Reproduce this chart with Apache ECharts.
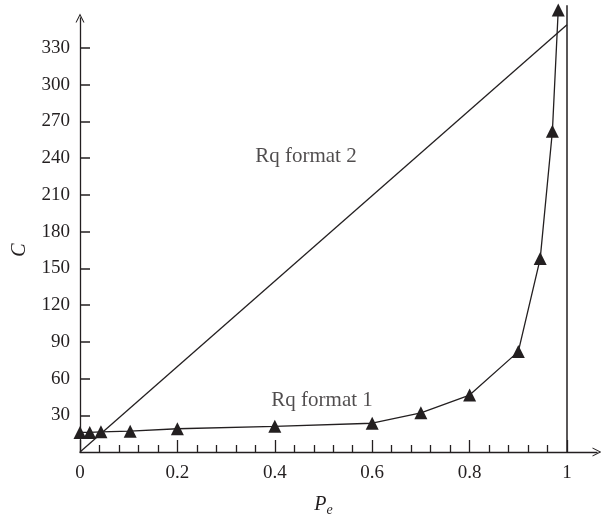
<!DOCTYPE html>
<html>
<head>
<meta charset="utf-8">
<script src="https://cdn.jsdelivr.net/npm/echarts@6/dist/echarts.min.js"></script>
<style>
  html, body { margin: 0; padding: 0; background: #fff; }
  #chart { width: 601px; height: 518px; }
</style>
</head>
<body>
<div id="chart"></div>
<script>
// Rq format 1 (triangles)
const peValues = [0, 0.02, 0.043, 0.103, 0.2, 0.4, 0.6, 0.7, 0.8, 0.9, 0.945, 0.97, 0.982];
const cValues = [16, 16, 16.5, 17, 19, 21, 23.5, 32, 46.5, 82, 158, 262, 361];
// Rq format 2 (straight line)
const lineX = [0, 1];
const lineY = [0, 349];
// vertical boundary at Pe = 1
const boundX = [1, 1];
const boundY = [0, 365];
const labelTexts = ['Rq format 2', 'Rq format 1'];
const labelX = [0.464, 0.497];
const labelY = [241, 42];

const ink = '#231f20';
const font = 'Liberation Serif';
const chevron = 'path://M0,10 L5,0 L10,10 L8.8,10 L5,2.4 L1.2,10 Z';

const zip = (a, b) => a.map((v, i) => [v, b[i]]);

const chart = echarts.init(document.getElementById('chart'));
chart.setOption({
  animation: false,
  backgroundColor: '#fff',
  grid: [
    { left: 80, right: 34, top: 48, bottom: 66, outerBoundsMode: 'none', containLabel: false },
    { left: 80, right: 4, top: 18, bottom: 66, outerBoundsMode: 'none', containLabel: false }
  ],
  xAxis: [
    {
      type: 'value', gridIndex: 0, min: 0, max: 1, interval: 0.2,
      axisLine: { show: false },
      axisTick: { show: true, inside: true, length: 12, lineStyle: { color: ink, width: 1.3 } },
      minorTick: { show: true, splitNumber: 5, length: 7, lineStyle: { color: ink, width: 1.3 } },
      splitLine: { show: false },
      axisLabel: { color: ink, fontFamily: font, fontSize: 19, margin: 12,
        formatter: v => String(Math.round(v * 10) / 10) },
      name: '{i|P}{s|e}',
      nameLocation: 'middle',
      nameGap: 41,
      nameTextStyle: {
        rich: {
          i: { fontFamily: font, fontStyle: 'italic', fontSize: 20, color: ink },
          s: { fontFamily: font, fontStyle: 'italic', fontSize: 14, color: ink, padding: [10, 0, 0, 0] }
        }
      }
    },
    {
      type: 'value', gridIndex: 1, min: 0, max: 1,
      axisLine: { show: true, symbol: ['none', chevron], symbolSize: [11, 9], lineStyle: { color: ink, width: 1.3 } },
      axisTick: { show: false }, axisLabel: { show: false }, splitLine: { show: false }
    }
  ],
  yAxis: [
    {
      type: 'value', gridIndex: 0, min: 0, max: 330, interval: 30,
      axisLine: { show: false },
      axisTick: { show: true, inside: true, length: 10, lineStyle: { color: ink, width: 1.5 } },
      splitLine: { show: false },
      axisLabel: { color: ink, fontFamily: font, fontSize: 19, margin: 10, showMinLabel: false },
      name: 'C',
      nameLocation: 'middle',
      nameGap: 50,
      nameTextStyle: { fontFamily: font, fontStyle: 'italic', fontSize: 20, color: ink }
    },
    {
      type: 'value', gridIndex: 1, min: 0, max: 1,
      axisLine: { show: true, symbol: ['none', chevron], symbolSize: [11, 9], lineStyle: { color: ink, width: 1.3 } },
      axisTick: { show: false }, axisLabel: { show: false }, splitLine: { show: false }
    }
  ],
  series: [
    {
      name: 'Rq format 2',
      type: 'line',
      data: zip(lineX, lineY),
      showSymbol: false,
      clip: false,
      lineStyle: { color: ink, width: 1.3 }
    },
    {
      name: 'boundary',
      type: 'line',
      data: zip(boundX, boundY),
      showSymbol: false,
      clip: false,
      lineStyle: { color: ink, width: 1.5 }
    },
    {
      name: 'Rq format 1',
      type: 'line',
      data: zip(peValues, cValues),
      symbol: 'triangle',
      symbolSize: 13,
      showAllSymbol: true,
      clip: false,
      lineStyle: { color: ink, width: 1.3 },
      itemStyle: { color: ink }
    },
    {
      name: 'labels',
      type: 'scatter',
      data: labelTexts.map((t, i) => ({ value: [labelX[i], labelY[i]], name: t })),
      symbolSize: 0,
      silent: true,
      label: {
        show: true, position: 'inside', formatter: p => p.name,
        color: ink, fontFamily: font, fontSize: 21
      }
    }
  ]
});
</script>
</body>
</html>
